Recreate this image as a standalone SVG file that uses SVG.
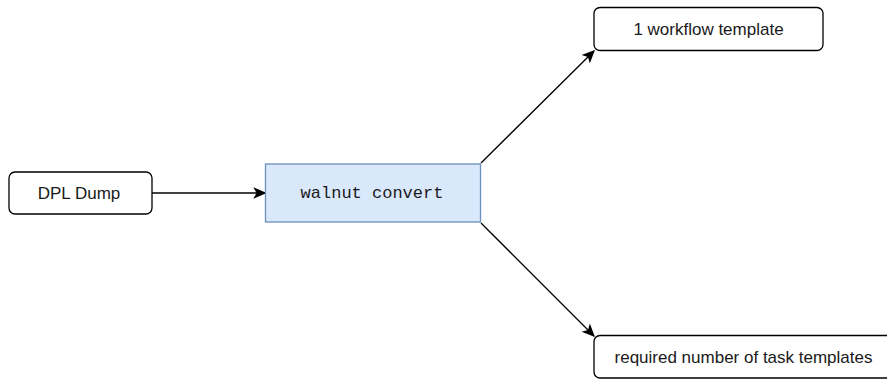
<svg xmlns="http://www.w3.org/2000/svg" width="887" height="379" viewBox="0 0 887 379">
<style>
.box{fill:#ffffff;stroke:#000000;stroke-width:1.3}
.proc{fill:#dae8fc;stroke:#6c8ebf;stroke-width:1.3}
.lbl{font-family:"Liberation Sans",Arial,sans-serif;font-size:17px;fill:#1a1a1a;text-anchor:middle;dominant-baseline:central}
.mono{font-family:"Liberation Mono","DejaVu Sans Mono",monospace;font-size:17px;fill:#1a1a1a;text-anchor:middle;dominant-baseline:central}
.edge{fill:none;stroke:#000000;stroke-width:1.3}
</style>
<defs>
<marker id="arr" viewBox="0 0 10 10" refX="9" refY="5" markerWidth="13" markerHeight="13" markerUnits="userSpaceOnUse" orient="auto">
<path d="M0,0.5 L10,5 L0,9.5 L2.5,5 Z" fill="#000000"/>
</marker>
</defs>
<rect width="887" height="379" fill="#ffffff"/>
<g id="connectors">
<path class="edge" d="M152,193 L265,193" marker-end="url(#arr)"/>
<path class="edge" d="M481,163 L594,51" marker-end="url(#arr)"/>
<path class="edge" d="M481,223 L594,336" marker-end="url(#arr)"/>
</g>
<g id="dpl-dump">
<rect class="box" x="9" y="172" width="143" height="42" rx="6"/>
<text class="lbl" x="79" y="193">DPL Dump</text>
</g>
<g id="walnut-convert">
<rect class="proc" x="265.5" y="164" width="215" height="58"/>
<text class="mono" x="372" y="193">walnut convert</text>
</g>
<g id="workflow-template">
<rect class="box" x="594" y="7.5" width="229" height="43" rx="6"/>
<text class="lbl" x="708.5" y="29">1 workflow template</text>
</g>
<g id="task-templates">
<rect class="box" x="594" y="335.5" width="300" height="42.5" rx="6"/>
<text class="lbl" x="743.5" y="357">required number of task templates</text>
</g>
</svg>
